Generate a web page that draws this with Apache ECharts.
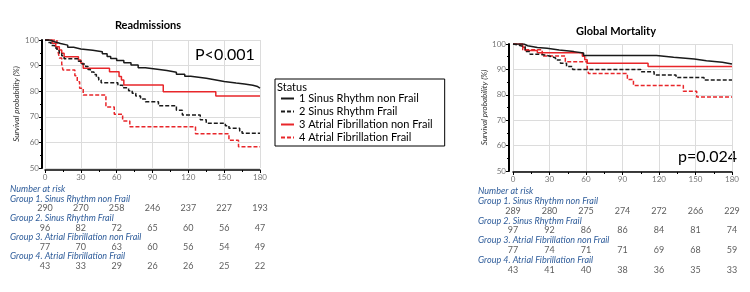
<!DOCTYPE html>
<html>
<head>
<meta charset="utf-8">
<script src="https://cdn.jsdelivr.net/npm/echarts@6/dist/echarts.min.js"></script>
<style>
  html, body { margin: 0; padding: 0; background: #fff; }
  #chart { width: 750px; height: 292px; }
</style>
</head>
<body>
<div id="chart"></div>
<script>
// time ticks (days)
const timeTicks = [0, 30, 60, 90, 120, 150, 180]
const groupNames = [
  '1 Sinus Rhythm non Frail',
  '2 Sinus Rhythm Frail',
  '3 Atrial Fibrillation non Frail',
  '4 Atrial Fibrillation Frail'
]
const tableLabels = [
  'Group 1. Sinus Rhythm non Frail',
  'Group 2. Sinus Rhythm Frail',
  'Group 3. Atrial Fibrillation non Frail',
  'Group 4. Atrial Fibrillation Frail'
]

// Readmissions, [day, survival %]
const readmSR = [[0, 100], [4, 99.3], [8, 98.6], [13, 98], [19, 97.2], [24, 96.5], [30, 96], [40, 95.4], [48, 94.6], [52, 93.6], [55, 92.8], [60, 92], [66, 91.1], [72, 90.2], [78, 89.2], [84, 88.6], [94, 88.1], [102, 87.4], [110, 86.6], [117, 85.8], [122, 85.1], [135, 84.5], [142, 83.8], [150, 83.2], [160, 82.8], [167, 82.3], [174, 81.8], [178, 81.2], [180, 81.2]]
const readmSRFrail = [[0, 100], [3, 99], [5, 97.9], [8, 96.9], [10, 95.8], [12, 94.8], [14, 93.8], [16, 92.7], [28, 91.7], [31, 90.6], [34, 89.6], [36, 88.5], [38, 87.5], [41, 86.5], [43, 85.4], [45, 84.4], [47, 83.3], [61, 82.3], [65, 81.3], [70, 80.2], [73, 79.2], [76, 78.1], [80, 77], [84, 75.9], [95, 74.3], [110, 72.6], [115, 70.7], [130, 68.8], [135, 67.5], [151, 66.5], [154, 65.5], [163, 64.5], [165, 63.6], [180, 63.6]]
const readmAF = [[0, 100], [6, 98.7], [9, 97.4], [12, 96.1], [14, 94.8], [16, 93.5], [28, 92.2], [30, 90.9], [32, 89], [54, 87.6], [62, 85.7], [64, 84.4], [66, 82.4], [99, 79.8], [143, 78.1], [180, 78.1]]
const readmAFFrail = [[0, 100], [10, 97.7], [11, 95.3], [12, 93], [14, 90.7], [15, 88.3], [25, 86], [27, 83.7], [29, 81.2], [32, 78.5], [51, 73.8], [58, 71], [65, 68.4], [71, 66.1], [126, 63.4], [154, 60.8], [162, 58.3], [180, 58.3]]

// Global mortality, [day, survival %]
const mortSR = [[0, 100], [9, 99.3], [12, 98.6], [20, 98.3], [28, 97.6], [38, 97], [50, 96.5], [58, 95.5], [118, 94.8], [132, 94.1], [149, 93.4], [159, 92.8], [172, 92.1], [180, 92.1]]
const mortSRFrail = [[0, 100], [1, 99.6], [4, 98.9], [10, 97], [14, 96], [21, 95.7], [26, 95], [32, 94.5], [35, 93.7], [39, 92.4], [44, 91.1], [49, 90], [105, 89.1], [116, 87.8], [134, 86.8], [157, 85.8], [180, 85.8]]
const mortAF = [[0, 100], [8, 98.7], [10, 97.4], [20, 96.6], [57, 95.2], [59, 93.8], [61, 92.4], [111, 91.1], [180, 91.1]]
const mortAFFrail = [[0, 100], [8, 97.7], [24, 95.3], [43, 93], [61, 90.7], [62, 88.4], [94, 86], [99, 83.7], [140, 81.4], [151, 79.1], [180, 79.1]]

// Number at risk
const readmRisk = [
  [290, 270, 258, 246, 237, 227, 193],
  [96, 82, 72, 65, 60, 56, 47],
  [77, 70, 63, 60, 56, 54, 49],
  [43, 33, 29, 26, 26, 25, 22]
]
const mortRisk = [
  [289, 280, 275, 274, 272, 266, 229],
  [97, 92, 86, 86, 84, 81, 74],
  [77, 74, 71, 71, 69, 68, 59],
  [43, 41, 40, 38, 36, 35, 33]
]

const BLACK = '#1a1a1a'
const RED = '#e8262a'
const FONT = 'Lato'
const styles = [
  { color: BLACK, type: 'solid' },
  { color: BLACK, type: [4, 2] },
  { color: RED, type: 'solid' },
  { color: RED, type: [4, 2] }
]

function plotX(gridIndex, offset) {
  return {
    gridIndex: gridIndex,
    type: 'value',
    min: 0,
    max: 180,
    interval: 30,
    offset: offset,
    axisLine: { show: true, onZero: false, lineStyle: { color: '#000', width: 1.5 } },
    axisTick: { show: true, length: 3, lineStyle: { color: '#000' } },
    minorTick: { show: true, splitNumber: 2, length: 2, lineStyle: { color: '#000' } },
    axisLabel: { fontSize: 8, color: '#777', margin: 3, fontFamily: FONT },
    splitLine: { show: true, lineStyle: { color: '#dcdcdc' } }
  }
}

function plotY(gridIndex, offset, gap) {
  return {
    gridIndex: gridIndex,
    type: 'value',
    min: 50,
    max: 100,
    interval: 10,
    offset: offset,
    name: 'Survival probability (%)',
    nameLocation: 'middle',
    nameGap: gap,
    nameTextStyle: { fontSize: 8, fontStyle: 'italic', color: '#333', fontFamily: FONT },
    axisLine: { show: true, onZero: false, lineStyle: { color: '#000', width: 2 } },
    axisTick: { show: true, length: 3, lineStyle: { color: '#000' } },
    minorTick: { show: true, splitNumber: 2, length: 2, lineStyle: { color: '#000' } },
    axisLabel: { fontSize: 8, color: '#777', margin: 3, fontFamily: FONT },
    splitLine: { show: true, lineStyle: { color: '#dcdcdc' } }
  }
}

function hiddenX(gridIndex) {
  return { gridIndex: gridIndex, type: 'value', min: 0, max: 180, show: false }
}
function hiddenY(gridIndex) {
  return { gridIndex: gridIndex, type: 'value', min: 0, max: 8, inverse: true, show: false }
}

function curve(name, data, idx, axis) {
  return {
    name: name,
    type: 'line',
    step: 'end',
    xAxisIndex: axis,
    yAxisIndex: axis,
    symbol: 'none',
    showSymbol: false,
    lineStyle: { color: styles[idx].color, type: styles[idx].type, width: 1.5 },
    itemStyle: { color: styles[idx].color },
    data: data,
    z: 3 + (3 - idx)
  }
}

function riskSeries(risk, axis) {
  const pts = []
  risk.forEach((row, g) => {
    row.forEach((n, i) => pts.push([timeTicks[i], 2 + g * 2, n]))
  })
  return {
    type: 'scatter',
    xAxisIndex: axis,
    yAxisIndex: axis,
    symbolSize: 0,
    silent: true,
    label: {
      show: true,
      position: 'inside',
      formatter: p => p.value[2],
      fontSize: 9,
      color: '#333',
      fontFamily: FONT
    },
    data: pts
  }
}

function tableText(x, top, step) {
  const items = [{ type: 'text', x: x, y: top, style: { text: 'Number at risk', font: 'italic 9px ' + FONT, fill: '#2e5c9a', verticalAlign: 'middle', textVerticalAlign: 'middle' } }]
  tableLabels.forEach((t, g) => {
    items.push({ type: 'text', x: x, y: top + (1 + g * 2) * step, style: { text: t, font: 'italic 9px ' + FONT, fill: '#2e5c9a', verticalAlign: 'middle', textVerticalAlign: 'middle' } })
  })
  return items
}

const chart = echarts.init(document.getElementById('chart'), null, { renderer: 'canvas' })

chart.setOption({
  animation: false,
  backgroundColor: '#fff',
  textStyle: { fontFamily: FONT },
  grid: [
    { left: 45, width: 215, top: 40, height: 128 },
    { left: 513, width: 219, top: 44, height: 127 },
    { left: 45, width: 215, top: 189.3, height: 76.8 },
    { left: 513, width: 219, top: 191, height: 79 }
  ],
  xAxis: [plotX(0, 2), plotX(1, 1), hiddenX(2), hiddenX(3)],
  yAxis: [plotY(0, 3, 22), plotY(1, 4, 20), hiddenY(2), hiddenY(3)],
  legend: {
    data: groupNames,
    orient: 'vertical',
    left: 275,
    top: 79,
    padding: [14, 12, 3, 5],
    itemWidth: 13,
    itemHeight: 8,
    itemGap: 2,
    borderColor: '#000',
    borderWidth: 1,
    backgroundColor: '#fff',
    selectedMode: false,
    itemStyle: { opacity: 0, borderWidth: 0 },
    lineStyle: { width: 2 },
    textStyle: { fontSize: 11, color: '#000', fontFamily: FONT }
  },
  graphic: [
    { type: 'text', x: 148, y: 25, style: { text: 'Readmissions', font: 'bold 11px ' + FONT, fill: '#000', align: 'center', textAlign: 'center', verticalAlign: 'middle', textVerticalAlign: 'middle' } },
    { type: 'text', x: 616, y: 31, style: { text: 'Global Mortality', font: 'bold 11px ' + FONT, fill: '#000', align: 'center', textAlign: 'center', verticalAlign: 'middle', textVerticalAlign: 'middle' } },
    { type: 'text', x: 195, y: 55, style: { text: 'P<0.001', font: '16px ' + FONT, fill: '#000', verticalAlign: 'middle', textVerticalAlign: 'middle' } },
    { type: 'text', x: 678, y: 157, style: { text: 'p=0.024', font: '16px ' + FONT, fill: '#000', verticalAlign: 'middle', textVerticalAlign: 'middle' } },
    { type: 'text', x: 277, y: 87, z: 100, style: { text: 'Status', font: '11px ' + FONT, fill: '#000', verticalAlign: 'middle', textVerticalAlign: 'middle' } }
  ].concat(tableText(10, 189.3, 9.6), tableText(478, 191, 9.875)),
  series: [
    curve(groupNames[0], readmSR, 0, 0),
    curve(groupNames[1], readmSRFrail, 1, 0),
    curve(groupNames[2], readmAF, 2, 0),
    curve(groupNames[3], readmAFFrail, 3, 0),
    curve(groupNames[0], mortSR, 0, 1),
    curve(groupNames[1], mortSRFrail, 1, 1),
    curve(groupNames[2], mortAF, 2, 1),
    curve(groupNames[3], mortAFFrail, 3, 1),
    riskSeries(readmRisk, 2),
    riskSeries(mortRisk, 3)
  ]
})
</script>
</body>
</html>
